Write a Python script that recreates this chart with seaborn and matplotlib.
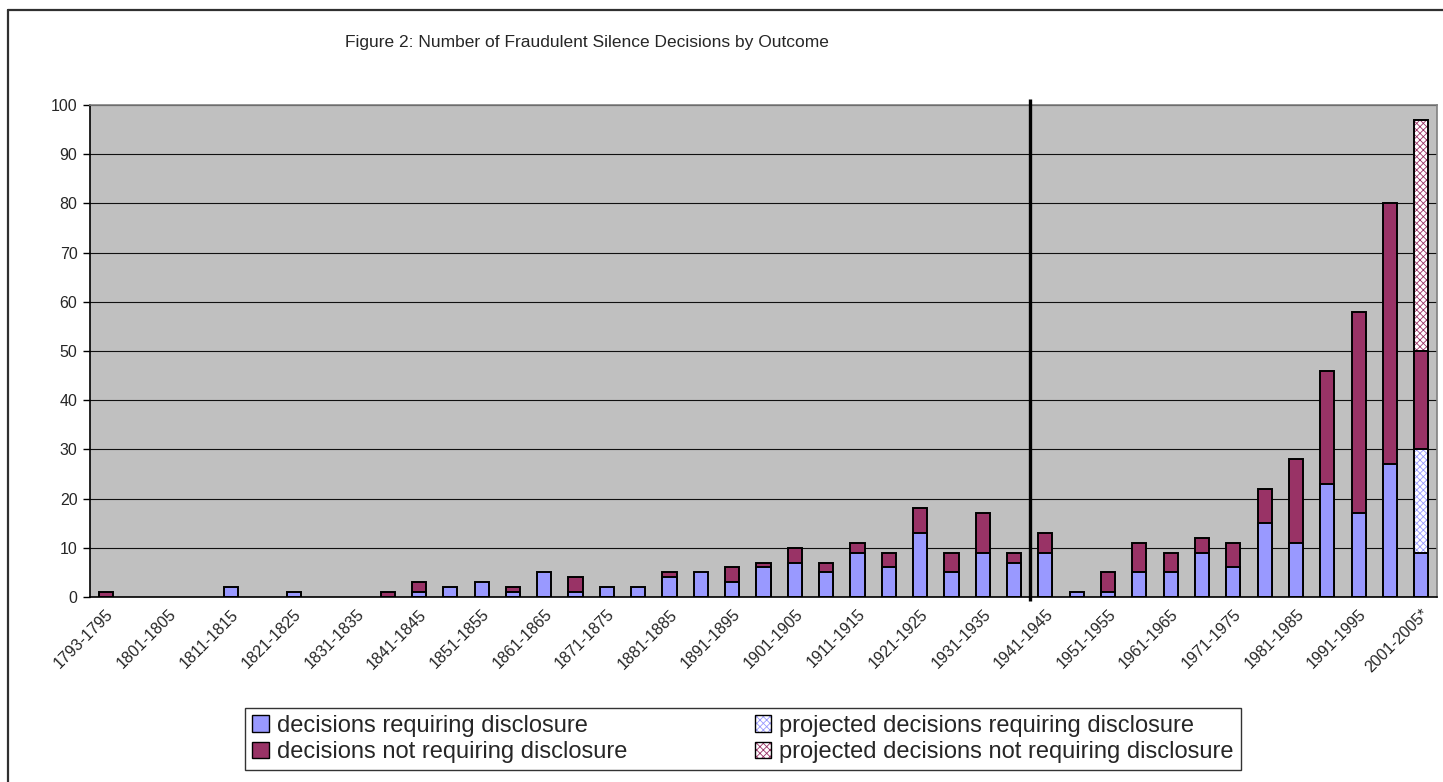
import numpy as np
import pandas as pd
import matplotlib
matplotlib.use("Agg")
import matplotlib.pyplot as plt
from matplotlib.patches import Patch
from matplotlib.lines import Line2D
from matplotlib.legend_handler import HandlerTuple
import seaborn as sns

# Five-year periods (the first one is a short, three-year period)
periods = [
    "1793-1795", "1796-1800", "1801-1805", "1806-1810", "1811-1815", "1816-1820",
    "1821-1825", "1826-1830", "1831-1835", "1836-1840", "1841-1845", "1846-1850",
    "1851-1855", "1856-1860", "1861-1865", "1866-1870", "1871-1875", "1876-1880",
    "1881-1885", "1886-1890", "1891-1895", "1896-1900", "1901-1905", "1906-1910",
    "1911-1915", "1916-1920", "1921-1925", "1926-1930", "1931-1935", "1936-1940",
    "1941-1945", "1946-1950", "1951-1955", "1956-1960", "1961-1965", "1966-1970",
    "1971-1975", "1976-1980", "1981-1985", "1986-1990", "1991-1995", "1996-2000",
    "2001-2005*",
]

requiring = [0, 0, 0, 0, 2, 0, 1, 0, 0, 0, 1, 2, 3, 1, 5, 1, 2, 2, 4, 5, 3, 6,
             7, 5, 9, 6, 13, 5, 9, 7, 9, 1, 1, 5, 5, 9, 6, 15, 11, 23, 17, 27, 9]
not_requiring = [1, 0, 0, 0, 0, 0, 0, 0, 0, 1, 2, 0, 0, 1, 0, 3, 0, 0, 1, 0, 3, 1,
                 3, 2, 2, 3, 5, 4, 8, 2, 4, 0, 4, 6, 4, 3, 5, 7, 17, 23, 41, 53, 20]
proj_requiring = [0, 0, 0, 0, 0, 0, 0, 0, 0, 0, 0, 0, 0, 0, 0, 0, 0, 0, 0, 0, 0, 0,
                  0, 0, 0, 0, 0, 0, 0, 0, 0, 0, 0, 0, 0, 0, 0, 0, 0, 0, 0, 0, 21]
proj_not_requiring = [0, 0, 0, 0, 0, 0, 0, 0, 0, 0, 0, 0, 0, 0, 0, 0, 0, 0, 0, 0, 0, 0,
                      0, 0, 0, 0, 0, 0, 0, 0, 0, 0, 0, 0, 0, 0, 0, 0, 0, 0, 0, 0, 47]

series_names = [
    "decisions requiring disclosure",
    "decisions not requiring disclosure",
    "projected decisions requiring disclosure",
    "projected decisions not requiring disclosure",
]
title = "Figure 2: Number of Fraudulent Silence Decisions by Outcome"

BLUE = "#9999FF"
RED = "#993366"
PLOT_BG = "#C0C0C0"
HATCH = "xxxxx"

sns.set_style("white")
plt.rcParams["font.family"] = ["Liberation Sans", "DejaVu Sans"]
plt.rcParams["hatch.linewidth"] = 0.6

df = pd.DataFrame({
    "period": periods,
    "req": requiring,
    "proj_req": proj_requiring,
    "not_req": not_requiring,
    "proj_not_req": proj_not_requiring,
})
# stacking order from the bottom: requiring, projected requiring,
# not requiring, projected not requiring
df["top1"] = df["req"]
df["top2"] = df["top1"] + df["proj_req"]
df["top3"] = df["top2"] + df["not_req"]
df["top4"] = df["top3"] + df["proj_not_req"]

fig = plt.figure(figsize=(14.43, 7.82), dpi=100)
ax = fig.add_axes([90 / 1443, 1 - 597 / 782, (1437 - 90) / 1443, (597 - 105) / 782])
ax.set_facecolor(PLOT_BG)
ax.set_axisbelow(True)
ax.yaxis.grid(True, color="#101010", linewidth=0.8)

BAR_W = 0.45


def draw_layer(col, seg, color, hatch_color=None, outline_only=False):
    n0 = len(ax.patches)
    sns.barplot(data=df, x="period", y=col, order=periods, color=color,
                saturation=1, width=BAR_W, edgecolor="black", linewidth=1.4,
                errorbar=None, ax=ax)
    for p, s in zip(ax.patches[n0:], df[seg]):
        if hatch_color is not None:
            # hatched fill without outline; its colour follows the edge colour
            p.set_facecolor("white")
            p.set_edgecolor(hatch_color)
            p.set_linewidth(0)
            p.set_hatch(HATCH)
        if outline_only:
            p.set_facecolor("none")
        if s == 0:
            p.set_visible(False)


# back to front: each layer is the cumulative height of its segment
draw_layer("top4", "proj_not_req", "white", hatch_color=RED)
draw_layer("top4", "proj_not_req", "white", outline_only=True)
draw_layer("top3", "not_req", RED)
draw_layer("top2", "proj_req", "white", hatch_color=BLUE)
draw_layer("top2", "proj_req", "white", outline_only=True)
draw_layer("top1", "req", BLUE)

# separator between 1936-1940 and 1941-1945
ax.vlines(29.5, -0.8, 101.2, color="black", linewidth=2.4, clip_on=False, zorder=5)

ax.set_xlim(-0.5, len(periods) - 0.5)
ax.set_ylim(0, 100)
ax.set_yticks(np.arange(0, 101, 10))
ax.set_xlabel("")
ax.set_ylabel("")

ax.set_xticks(np.arange(0, len(periods), 2))
ax.set_xticklabels(periods[::2], rotation=45, ha="right", rotation_mode="anchor",
                   fontsize=11.5)
ax.set_xticks(np.arange(-0.5, len(periods), 1), minor=True)
ax.tick_params(axis="x", which="major", length=0, pad=7)
ax.tick_params(axis="x", which="minor", length=5, width=1, color="black",
               direction="out")
ax.tick_params(axis="y", length=5, width=1, color="black", direction="out",
               labelsize=11.5, pad=4)
ax.tick_params(axis="both", bottom=True, left=True)

for side in ("left", "bottom"):
    ax.spines[side].set_color("black")
    ax.spines[side].set_linewidth(1.2)
for side in ("top", "right"):
    ax.spines[side].set_color("#808080")
    ax.spines[side].set_linewidth(1.2)

fig.text(587 / 1443, 1 - 42 / 782, title, ha="center", va="center", fontsize=12.5)

# chart-area frame (top and left edges)
fig.add_artist(Line2D([8 / 1443, 1.0], [1 - 10 / 782, 1 - 10 / 782],
                      color="#303030", linewidth=1.6, transform=fig.transFigure))
fig.add_artist(Line2D([8 / 1443, 8 / 1443], [0, 1 - 10 / 782],
                      color="#303030", linewidth=1.6, transform=fig.transFigure))

solid_blue = Patch(facecolor=BLUE, edgecolor="black", linewidth=1.0)
solid_red = Patch(facecolor=RED, edgecolor="black", linewidth=1.0)
hatch_blue = (Patch(facecolor="white", edgecolor=BLUE, linewidth=0, hatch=HATCH),
              Patch(facecolor="none", edgecolor="black", linewidth=1.0))
hatch_red = (Patch(facecolor="white", edgecolor=RED, linewidth=0, hatch=HATCH),
             Patch(facecolor="none", edgecolor="black", linewidth=1.0))

leg = fig.legend(
    [solid_blue, solid_red, hatch_blue, hatch_red],
    series_names,
    handler_map={tuple: HandlerTuple(ndivide=1, pad=0)},
    ncol=2, loc="center", bbox_to_anchor=(743 / 1443, 1 - 739 / 782),
    fontsize=17, frameon=True, fancybox=False, shadow=False,
    handlelength=0.7, handleheight=0.7, handletextpad=0.35,
    columnspacing=5.4, labelspacing=0.2, borderpad=0.3, borderaxespad=0,
)
leg.get_frame().set_edgecolor("black")
leg.get_frame().set_linewidth(1.0)

fig.savefig("out.png", dpi=100, facecolor="white")
